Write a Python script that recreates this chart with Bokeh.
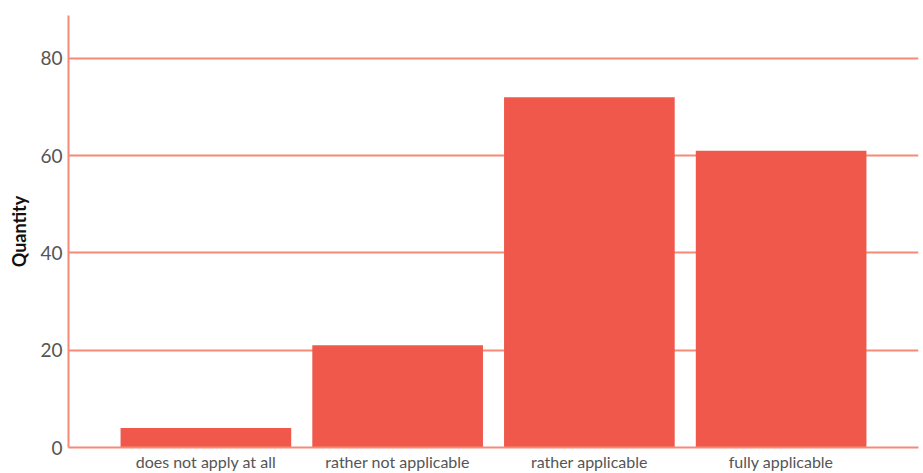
from bokeh.plotting import figure
from bokeh.models import FactorRange, Range1d, FixedTicker, ColumnDataSource
from bokeh.embed import file_html
from bokeh.resources import INLINE

categories = ["does not apply at all", "rather not applicable", "rather applicable", "fully applicable"]
quantities = [4, 21, 72, 61]
y_ticks = [0, 20, 40, 60, 80]

BAR = "#F0584C"
GRID = "#F58A76"

src = ColumnDataSource(data=dict(cat=categories, qty=quantities))

p = figure(
    x_range=FactorRange(factors=categories, range_padding=0.2165, range_padding_units="absolute"),
    y_range=Range1d(0, 88.8),
    width=923, height=473,
    output_backend="svg", toolbar_location=None,
    min_border_left=68, min_border_right=5, min_border_top=15, min_border_bottom=26,
)
p.vbar(x="cat", top="qty", width=0.89, source=src, color=BAR, line_color=None)

p.outline_line_color = None
p.background_fill_color = "white"
p.border_fill_color = "white"

p.xgrid.grid_line_color = None
p.ygrid.grid_line_color = GRID
p.ygrid.grid_line_width = 2
p.ygrid.ticker = FixedTicker(ticks=y_ticks)

p.yaxis.ticker = FixedTicker(ticks=y_ticks)
p.yaxis.axis_label = "Quantity"
p.yaxis.axis_label_text_font = "Lato"
p.yaxis.axis_label_text_font_style = "bold"
p.yaxis.axis_label_text_font_size = "18px"
p.yaxis.axis_label_text_color = "#111111"
p.yaxis.axis_label_standoff = 7

for ax in (p.xaxis[0], p.yaxis[0]):
    ax.axis_line_color = GRID
    ax.axis_line_width = 2
    ax.major_tick_line_color = None
    ax.minor_tick_line_color = None
    ax.major_tick_out = 0
    ax.major_tick_in = 0
    ax.major_label_text_font = "Lato"
    ax.major_label_text_color = "#555555"

p.yaxis.major_label_text_font_size = "19px"
p.yaxis.major_label_standoff = 6
p.xaxis.major_label_text_font_size = "16px"
p.xaxis.major_label_standoff = 4

open("out.html", "w").write(file_html(p, INLINE))
